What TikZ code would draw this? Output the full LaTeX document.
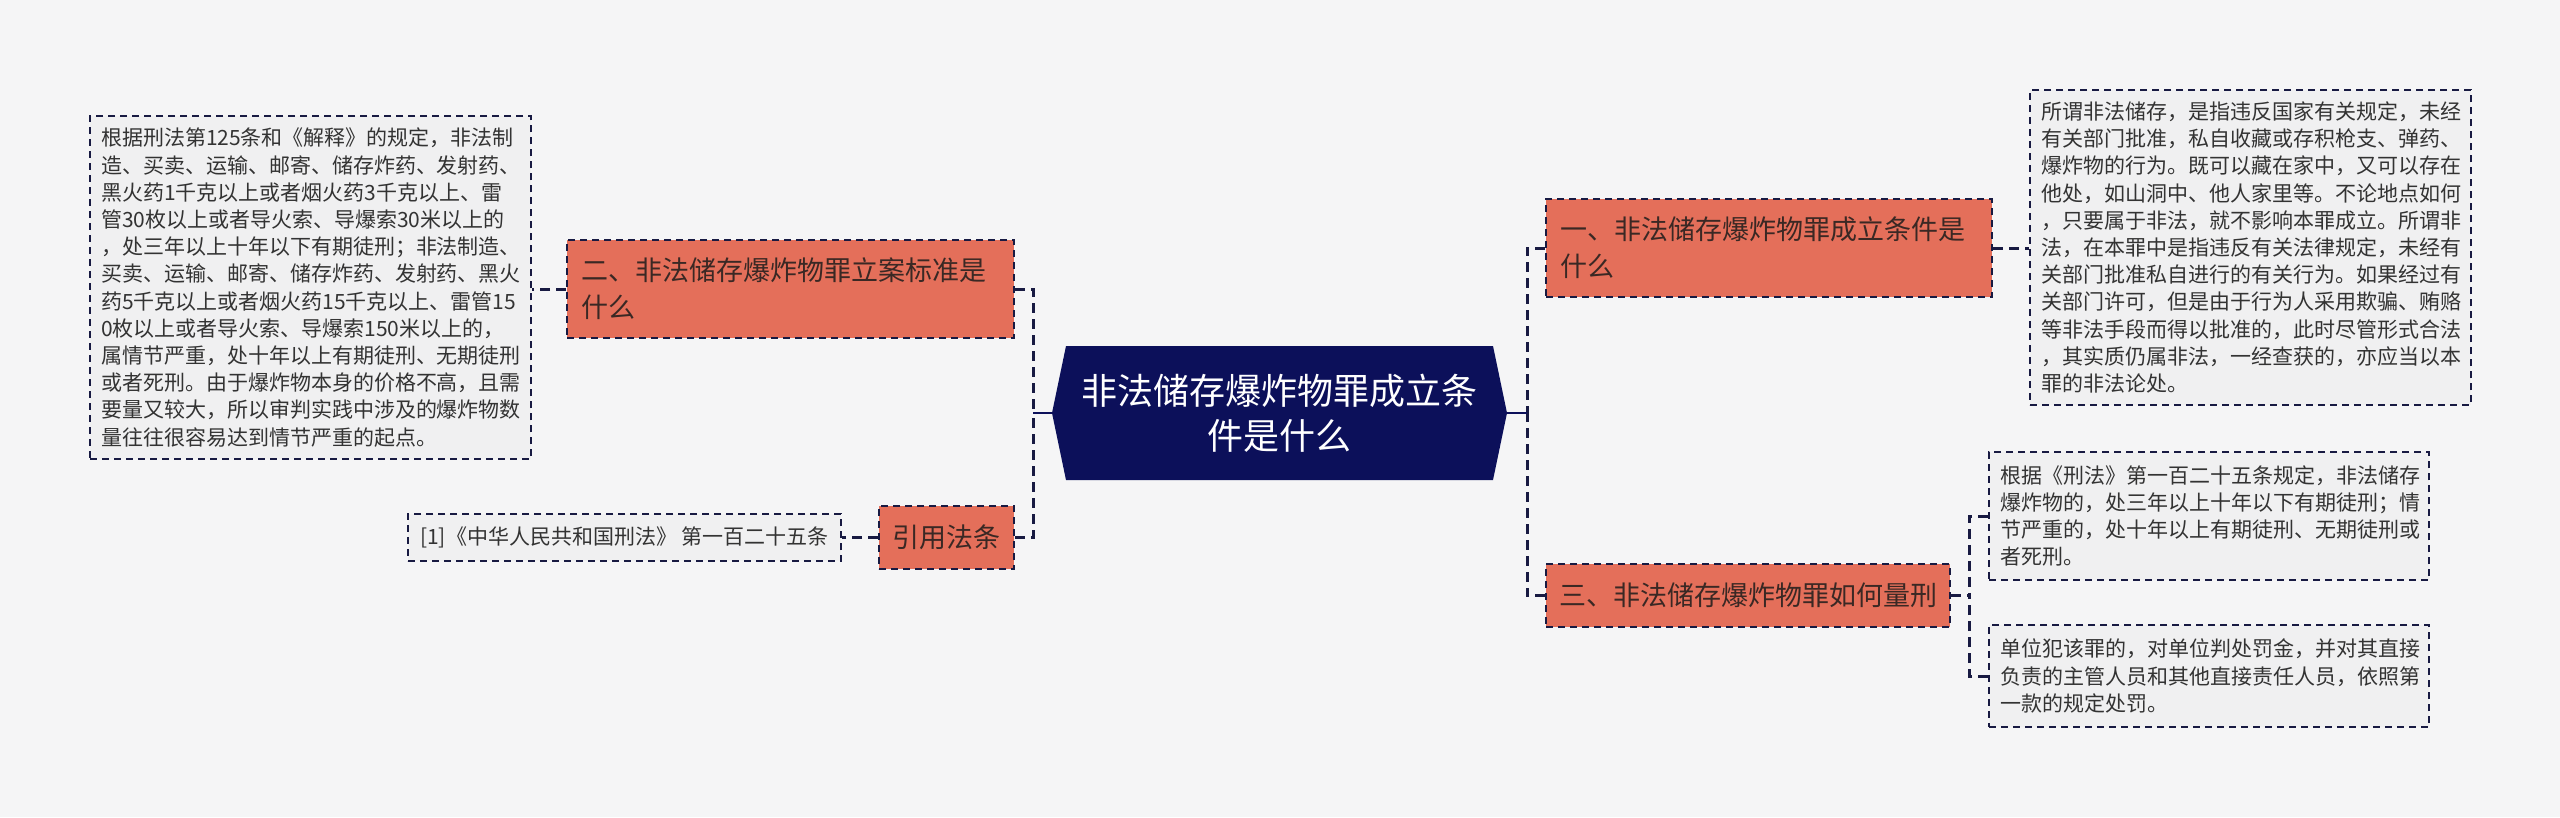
\documentclass[tikz,border=0pt]{standalone}
\usepackage{fontspec}
\setmainfont{Noto Sans CJK SC}
\definecolor{bgc}{RGB}{245,245,246}
\definecolor{boxc}{RGB}{240,240,241}
\definecolor{orangec}{RGB}{228,111,90}
\definecolor{navyc}{RGB}{12,16,90}
\definecolor{linec}{RGB}{24,26,66}
\definecolor{txtc}{RGB}{51,51,51}
\definecolor{otxt}{RGB}{58,40,36}
\begin{document}
\begin{tikzpicture}[x=1pt,y=-1pt,
  conn/.style={draw=linec,line width=3pt,dash pattern=on 10pt off 6pt},
  solidc/.style={draw=navyc,line width=2.5pt},
  tbox/.style={draw=linec,line width=1.8pt,dash pattern=on 7pt off 5pt,fill=boxc,
    inner xsep=11pt,inner ysep=0pt,align=left,text=txtc,
    font=\fontsize{21pt}{27.2pt}\selectfont},
  obox/.style={draw=linec,line width=2pt,dash pattern=on 7pt off 5pt,fill=orangec,
    inner xsep=14pt,inner ysep=0pt,align=left,text=otxt,
    font=\fontsize{27pt}{37pt}\selectfont},
]
\useasboundingbox (0,0) rectangle (2560,817);
\fill[bgc] (0,0) rectangle (2560,817);

% center hexagon
\fill[navyc] (1052,413) -- (1066,346) -- (1493,346) -- (1507,413) -- (1493,480) -- (1066,480) -- cycle;
\node[minimum width=455pt,minimum height=134pt,inner sep=0pt,align=center,text=white,
  font=\fontsize{36pt}{45pt}\selectfont] (ctr) at (1279.5,413) {非法储存爆炸物罪成立条\\件是什么};

% left side
\node[obox,minimum width=447pt,minimum height=98pt,text width=419pt] (n2) at (790.5,289) {二、非法储存爆炸物罪立案标准是\\什么};
\node[obox,minimum width=135pt,minimum height=63pt,inner xsep=0pt,align=center] (yf) at (946.5,537.5) {引用法条};
\node[tbox,minimum width=441pt,minimum height=343pt,text width=419pt] (lb) at (310.5,287.5) {根据刑法第125条和《解释》的规定，非法制\\造、买卖、运输、邮寄、储存炸药、发射药、\\黑火药1千克以上或者烟火药3千克以上、雷\\管30枚以上或者导火索、导爆索30米以上的\\，处三年以上十年以下有期徒刑；非法制造、\\买卖、运输、邮寄、储存炸药、发射药、黑火\\药5千克以上或者烟火药15千克以上、雷管15\\0枚以上或者导火索、导爆索150米以上的，\\属情节严重，处十年以上有期徒刑、无期徒刑\\或者死刑。由于爆炸物本身的价格不高，且需\\要量又较大，所以审判实践中涉及的爆炸物数\\量往往很容易达到情节严重的起点。};
\node[tbox,minimum width=433pt,minimum height=47pt,inner xsep=0pt,align=center] (ref) at (624.5,537.5) {[1]《中华人民共和国刑法》 第一百二十五条};

% right side
\node[obox,minimum width=446pt,minimum height=98pt,text width=418pt] (n1) at (1769,248) {一、非法储存爆炸物罪成立条件是\\什么};
\node[obox,minimum width=404pt,minimum height=63pt,inner xsep=0pt,align=center] (n3) at (1748,595.5) {三、非法储存爆炸物罪如何量刑};
\node[tbox,minimum width=441pt,minimum height=315pt,text width=419pt] (rb1) at (2250.5,247.5) {所谓非法储存，是指违反国家有关规定，未经\\有关部门批准，私自收藏或存积枪支、弹药、\\爆炸物的行为。既可以藏在家中，又可以存在\\他处，如山洞中、他人家里等。不论地点如何\\，只要属于非法，就不影响本罪成立。所谓非\\法，在本罪中是指违反有关法律规定，未经有\\关部门批准私自进行的有关行为。如果经过有\\关部门许可，但是由于行为人采用欺骗、贿赂\\等非法手段而得以批准的，此时尽管形式合法\\，其实质仍属非法，一经查获的，亦应当以本\\罪的非法论处。};
\node[tbox,minimum width=440pt,minimum height=128pt,text width=418pt] (ra) at (2209,516) {根据《刑法》第一百二十五条规定，非法储存\\爆炸物的，处三年以上十年以下有期徒刑；情\\节严重的，处十年以上有期徒刑、无期徒刑或\\者死刑。};
\node[tbox,minimum width=440pt,minimum height=102pt,text width=418pt] (rbb) at (2209,676) {单位犯该罪的，对单位判处罚金，并对其直接\\负责的主管人员和其他直接责任人员，依照第\\一款的规定处罚。};

% connectors
\coordinate (jl) at (1033,413);
\coordinate (jr) at (1527,413);
\coordinate (j3) at (1969,595.5);
\draw[conn] (n2.east) -| (jl);
\draw[conn] (yf.east) -| (jl);
\draw[solidc] (ctr.west) -- (jl);
\draw[conn] (n1.west) -| (jr);
\draw[conn] (n3.west) -| (jr);
\draw[solidc] (ctr.east) -- (jr);
\draw[conn] (n2.west) -- (lb.east |- n2.west);
\draw[conn] (yf.west) -- (ref.east |- yf.west);
\draw[conn] (n1.east) -- (rb1.west |- n1.east);
\draw[conn] (ra.west) -| (j3);
\draw[conn] (rbb.west) -| (j3);
\draw[conn] (n3.east) -- (j3);
\end{tikzpicture}
\end{document}
